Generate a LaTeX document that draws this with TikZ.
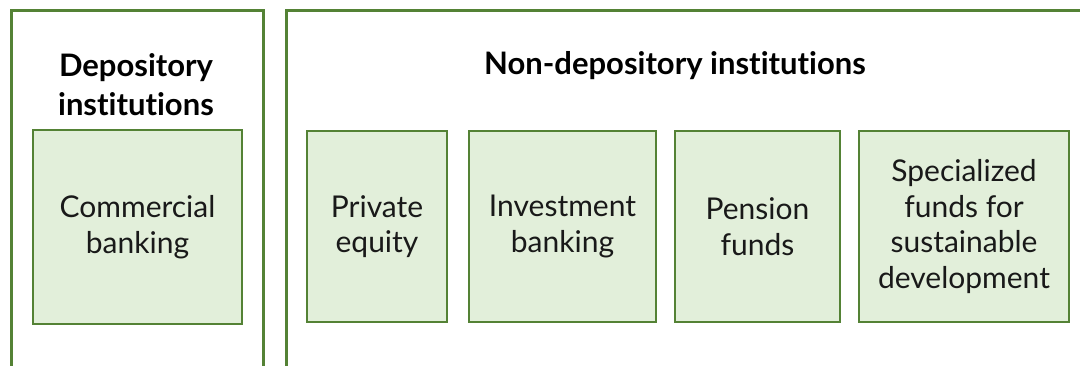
\documentclass[tikz,border=0pt]{standalone}
\usepackage{fontspec}
\setmainfont{Lato}[Ligatures={NoCommon,NoRare}]
\definecolor{frame}{RGB}{84,130,53}
\definecolor{boxfill}{RGB}{226,239,218}
\begin{document}
\begin{tikzpicture}[x=1pt,y=-1pt,
  container/.style={draw=frame,line width=3pt,inner sep=0pt,anchor=north west},
  item/.style={draw=frame,fill=boxfill,line width=2.6pt,inner sep=0pt,align=center,
    font=\fontsize{30}{35.5}\selectfont,text=black!90},
  heading/.style={align=center,font=\fontsize{31}{39}\selectfont\bfseries}]
\useasboundingbox (0,0) rectangle (1080,365);
\fill[white] (0,0) rectangle (1080,365);
\node[container,minimum width=252pt,minimum height=400pt] (dep) at (10,9) {};
\node[container,minimum width=830pt,minimum height=400pt] (nondep) at (285,9) {};
\node[heading] (deph) at (136,85) {Depository\\institutions};
\node[heading] (nondeph) at (675,66) {Non-depository institutions};
\node[item,minimum width=209pt,minimum height=194pt] (cb) at (137.5,227) {Commercial\\banking};
\node[item,minimum width=140pt,minimum height=191pt] (pe) at (377,226.5) {Private\\equity};
\node[item,minimum width=187pt,minimum height=191pt] (ib) at (562.5,226.5) {Investment\\banking};
\node[item,minimum width=165pt,minimum height=191pt] (pf) at (757.5,226.5) {Pension\\funds};
\node[item,minimum width=210pt,minimum height=191pt] (sf) at (964,226.5) {Specialized\\funds for\\sustainable\\development};
\end{tikzpicture}
\end{document}
